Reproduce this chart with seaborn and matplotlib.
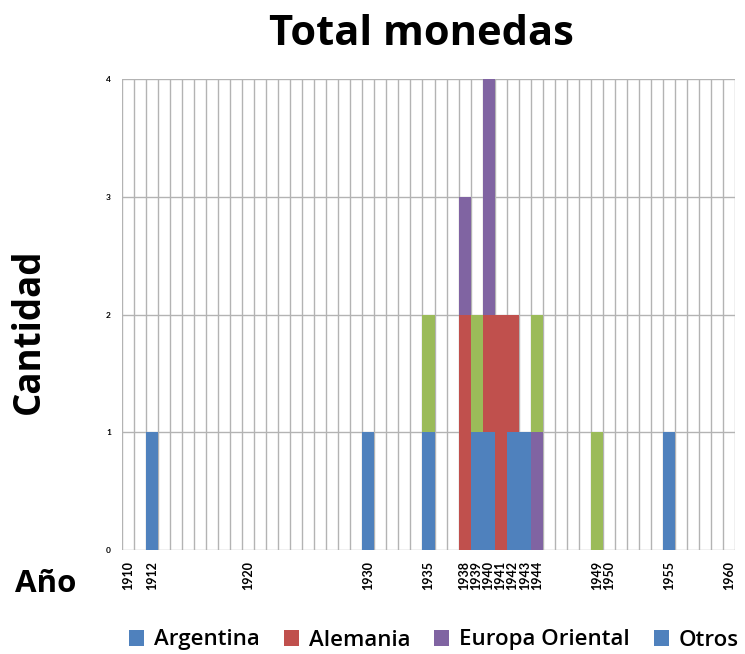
import numpy as np
import pandas as pd
import matplotlib
matplotlib.use("Agg")
import matplotlib.pyplot as plt
from matplotlib.patches import Patch
import seaborn as sns

# ---- data ----
years_argentina = [1912, 1930, 1935, 1939, 1940, 1942, 1943, 1955]
counts_argentina = [1, 1, 1, 1, 1, 1, 1, 1]
years_alemania = [1938, 1940, 1941, 1942]
counts_alemania = [2, 1, 2, 1]
years_europa = [1938, 1940, 1944]
counts_europa = [1, 2, 1]
years_otros = [1935, 1939, 1944, 1949]
counts_otros = [1, 1, 1, 1]

series_names = ["Argentina", "Alemania", "Europa Oriental", "Otros"]
bar_colors = ["#4F81BD", "#C0504D", "#8064A2", "#9BBB59"]
legend_colors = ["#4F81BD", "#C0504D", "#8064A2", "#4F81BD"]
label_years = [1910, 1912, 1920, 1930, 1935, 1938, 1939, 1940, 1941, 1942,
               1943, 1944, 1949, 1950, 1955, 1960]
y_ticks = [0, 1, 2, 3, 4]

frames = []
for name, yrs, cnts in [("Argentina", years_argentina, counts_argentina),
                        ("Alemania", years_alemania, counts_alemania),
                        ("Europa Oriental", years_europa, counts_europa),
                        ("Otros", years_otros, counts_otros)]:
    frames.append(pd.DataFrame({"year": yrs, "count": cnts, "region": name}))
df = pd.concat(frames, ignore_index=True)

sns.set_style("white")
plt.rcParams["font.family"] = ["Open Sans", "DejaVu Sans"]
plt.rcParams["text.color"] = "black"
plt.rcParams["xtick.color"] = "black"
plt.rcParams["ytick.color"] = "black"

fig = plt.figure(figsize=(7.45, 6.54), dpi=100)
ax = fig.add_axes([122/745, 1-550/654, (735-122)/745, (550-79)/654])

palette = dict(zip(series_names, bar_colors))
sns.histplot(data=df, x="year", weights="count", hue="region",
             hue_order=series_names[::-1], multiple="stack", discrete=True,
             shrink=1, palette=palette, alpha=1, linewidth=0, ax=ax,
             legend=False, zorder=3)

ax.set_xlim(1909.5, 1960.5)
ax.set_ylim(0, 4)
ax.set_xticks(label_years)
ax.set_xticklabels([str(y) for y in label_years], rotation=90, fontsize=9,
                   fontweight="bold", family=["Lato", "DejaVu Sans"])
ax.set_xticks(np.arange(1909.5, 1961, 1.0), minor=True)
ax.set_yticks(y_ticks)
ax.set_yticklabels([str(v) for v in y_ticks], fontsize=6, fontweight="bold",
                   family=["Lato", "DejaVu Sans"])
ax.tick_params(axis="x", which="major", length=0, pad=8, labelcolor="black")
ax.tick_params(axis="x", which="minor", length=4, color="#A6A6A6", width=1,
               direction="out")
ax.tick_params(axis="y", length=0, pad=8, labelcolor="black")
ax.grid(True, axis="x", which="minor", color="#B3B3B3", linewidth=1, zorder=0)
ax.grid(True, axis="y", which="major", color="#B3B3B3", linewidth=1, zorder=0)
ax.grid(False, axis="x", which="major")
ax.set_axisbelow(True)
for s in ax.spines.values():
    s.set_visible(False)
ax.set_xlabel("")
ax.set_ylabel("")

fig.text(421/745, 1-45/654, "Total monedas", ha="center", va="baseline",
         fontsize=30, fontweight="bold", color="black")
fig.text(29/745, 1-331/654, "Cantidad", ha="center", va="center",
         rotation=90, fontsize=26.5, fontweight="bold", color="black")
fig.text(46/745, 1-592/654, "Año", ha="center", va="baseline",
         fontsize=22.5, fontweight="bold", color="black")

handles = [Patch(facecolor=c, edgecolor="none") for c in legend_colors]
leg = fig.legend(handles, series_names, loc="center",
                 bbox_to_anchor=(434/745, 1-640/654),
                 ncol=4, frameon=False, handlelength=0.7, handleheight=0.7,
                 handletextpad=0.45, columnspacing=1.05,
                 prop={"weight": "semibold", "size": 16})
for t in leg.get_texts():
    t.set_color("black")

fig.savefig("out.png", dpi=100)
